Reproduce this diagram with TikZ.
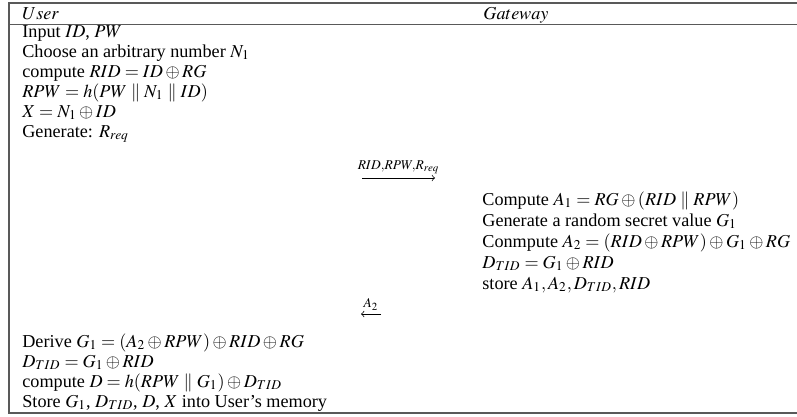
\documentclass[tikz,border=0pt]{standalone}
\usepackage{amsmath}
\usepackage{mathptmx}
\usepackage{fontspec}
\setmainfont{Liberation Serif}

\begin{document}
\begin{tikzpicture}[x=0.55pt,y=-0.55pt,
		every node/.style={anchor=base west,inner sep=0pt},
		rule/.style={draw=black!65,line width=0.8pt},
		msg/.style={->,>=to,line width=0.4pt}]
	\useasboundingbox (0,0) rectangle (797,416);
	\draw[rule] (797,3) -- (9,3) -- (9,413) -- (797,413);
	\draw[rule] (9,24.5) -- (797,24.5);
	% header
	\node (usr) at (22,19) {$User$};
	\node (gw) at (483,19) {$Gateway$};
	% user registration request
	\node (u1) at (22,37) {Input $ID$, $PW$};
	\node (u2) at (22,57) {Choose an arbitrary number $N_1$};
	\node (u3) at (22,77) {compute $RID=ID\oplus RG$};
	\node (u4) at (22,97) {$RPW=h(PW\parallel N_1\parallel ID)$};
	\node (u5) at (22,117) {$X=N_1\oplus ID$};
	\node (u6) at (22,137) {Generate: $R_{req}$};
	% message 1
	\coordinate (m1a) at (362,178);
	\coordinate (m1b) at (435,178);
	\draw[msg] (m1a) -- node[anchor=south,yshift=2pt] (l1) {$\scriptstyle RID,RPW,R_{req}$} (m1b);
	% gateway
	\node (g1) at (482,205) {Compute $A_1=RG\oplus(RID\parallel RPW)$};
	\node (g2) at (482,226) {Generate a random secret value $G_1$};
	\node (g3) at (482,247) {Conmpute $A_2=(RID\oplus RPW)\oplus G_1\oplus RG$};
	\node (g4) at (482,268) {$D_{TID}=G_1\oplus RID$};
	\node (g5) at (482,289) {store $A_1,A_2,D_{TID},RID$};
	% message 2
	\coordinate (m2a) at (381,314);
	\coordinate (m2b) at (361,314);
	\draw[msg] (m2a) -- node[anchor=south,yshift=2pt] (l2) {$\scriptstyle A_2$} (m2b);
	% user stores
	\node (u7) at (22,347) {Derive $G_1=(A_2\oplus RPW)\oplus RID\oplus RG$};
	\node (u8) at (22,367) {$D_{TID}=G_1\oplus RID$};
	\node (u9) at (22,387) {compute $D=h(RPW\parallel G_1)\oplus D_{TID}$};
	\node (u10) at (22,407) {Store $G_1$, $D_{TID}$, $D$, $X$ into User’s memory};
\end{tikzpicture}
\end{document}
